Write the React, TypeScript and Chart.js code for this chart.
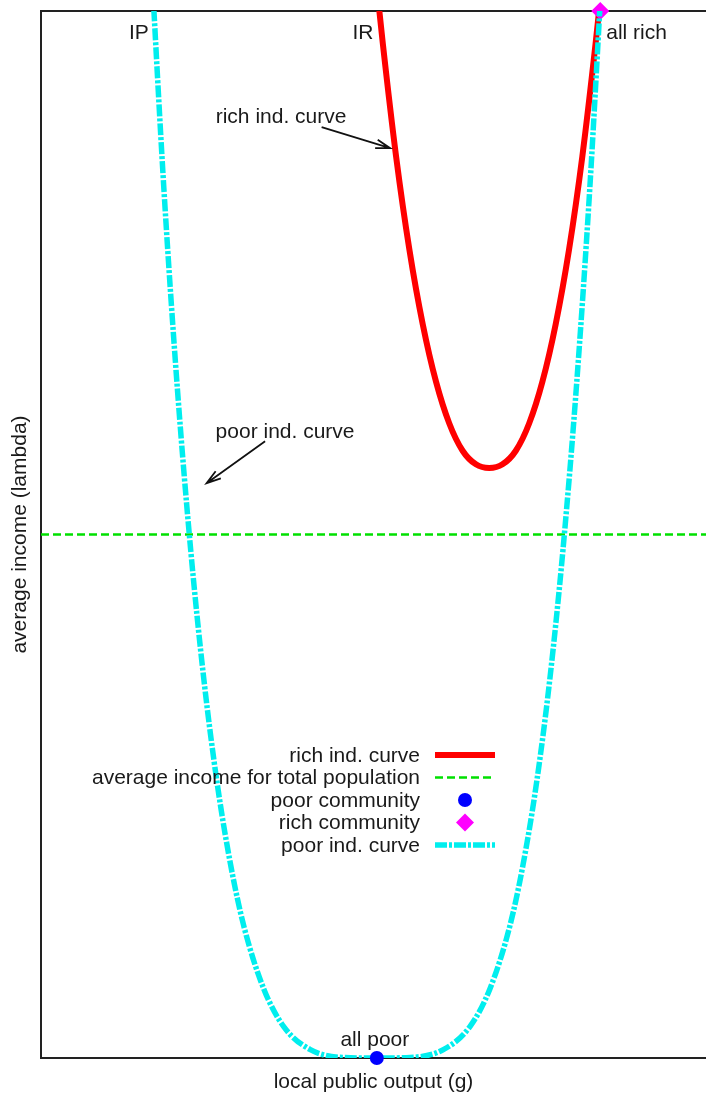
import React, { useEffect, useRef } from "react";
import { Chart, registerables } from "chart.js";

Chart.register(...registerables);

// ---- data (axis units 0..100) ----
const poorCurveX = [16.5, 18.5, 20.5, 22.5, 24.5, 26.5, 28.5, 30.5, 33.5, 36.5, 40.5, 45.5, 50.5, 55.5, 60.5, 64.5, 67.5, 70.5, 72.5, 74.5, 76.5, 78.5, 80.5, 82.5, 84.5];
const poorCurveY = [105.6, 82.8, 64.0, 48.6, 36.1, 26.2, 18.5, 12.6, 6.6, 3.0, 0.8, 0.05, 0, 0.05, 0.8, 3.0, 6.6, 12.6, 18.5, 26.2, 36.1, 48.6, 64.0, 82.8, 105.6];

const richCurveX = [50.4, 51.4, 53.4, 55.4, 57.4, 59.4, 61.4, 63.4, 65.4, 67.4, 69.4, 71.4, 73.4, 75.4, 77.4, 79.4, 81.4, 83.4, 84.4];
const richCurveY = [102.9, 96.9, 86.1, 77.2, 70.1, 64.6, 60.6, 58.0, 56.7, 56.35, 56.7, 58.0, 60.6, 64.6, 70.1, 77.2, 86.1, 96.9, 102.9];

const averageIncomeX = [0, 100];
const averageIncomeY = [50, 50];

const poorCommunity = [{ x: 50.5, y: 0 }];
const richCommunity = [{ x: 84.1, y: 100 }];

const seriesLabels = [
  "rich ind. curve",
  "average income for total population",
  "poor community",
  "rich community",
  "poor ind. curve",
];

const xTitle = "local public output (g)";
const yTitle = "average income (lambda)";

// annotations: [text, x, y, align]
const pointLabels: [string, number, number, CanvasTextAlign][] = [
  ["IP", 16.2, 97.3, "right"],
  ["IR", 50.0, 97.3, "right"],
  ["all rich", 85.0, 97.3, "left"],
  ["all poor", 50.2, 1.15, "center"],
];

// arrow annotations: [text, textX, textY, fromX, fromY, toX, toY]
const arrowNotes: [string, number, number, number, number, number, number][] = [
  ["rich ind. curve", 36.1, 89.3, 42.2, 88.9, 52.5, 86.9],
  ["poor ind. curve", 36.7, 59.2, 33.7, 58.9, 24.9, 54.9],
];

const FONT = '21px "Liberation Sans", Arial, sans-serif';
const TEXT = "#1a1a1a";

const RED = "#ff0000";
const GREEN = "#00e000";
const BLUE = "#0000ff";
const MAGENTA = "#ff00ff";
const CYAN = "#00eeee";

const zip = (xs: number[], ys: number[]) => xs.map((x, i) => ({ x, y: ys[i] }));

const decorPlugin = {
  id: "decor",
  beforeDatasetsDraw(chart: any) {
    const { ctx, chartArea } = chart;
    const { left, top, right, bottom } = chartArea;
    ctx.save();
    ctx.strokeStyle = "#222";
    ctx.lineWidth = 2;
    ctx.beginPath();
    ctx.moveTo(right + 2, top);
    ctx.lineTo(left, top);
    ctx.lineTo(left, bottom);
    ctx.lineTo(right + 2, bottom);
    ctx.stroke();

    // axis titles
    ctx.fillStyle = TEXT;
    ctx.font = FONT;
    ctx.textAlign = "center";
    ctx.textBaseline = "middle";
    ctx.fillText(xTitle, (left + right) / 2, bottom + 24);
    ctx.save();
    ctx.translate(left - 21, (top + bottom) / 2);
    ctx.rotate(-Math.PI / 2);
    ctx.fillText(yTitle, 0, 0);
    ctx.restore();
    ctx.restore();
  },
  afterDatasetsDraw(chart: any) {
    const { ctx } = chart;
    const xs = chart.scales.x;
    const ys = chart.scales.y;
    ctx.save();
    ctx.fillStyle = TEXT;
    ctx.font = FONT;
    ctx.textBaseline = "alphabetic";
    for (const [t, x, y, a] of pointLabels) {
      ctx.textAlign = a;
      ctx.fillText(t, xs.getPixelForValue(x), ys.getPixelForValue(y));
    }
    ctx.strokeStyle = "#111";
    ctx.lineWidth = 1.8;
    for (const [t, tx, ty, fx, fy, tox, toy] of arrowNotes) {
      ctx.textAlign = "center";
      ctx.fillText(t, xs.getPixelForValue(tx), ys.getPixelForValue(ty));
      const x1 = xs.getPixelForValue(fx);
      const y1 = ys.getPixelForValue(fy);
      const x2 = xs.getPixelForValue(tox);
      const y2 = ys.getPixelForValue(toy);
      ctx.beginPath();
      ctx.moveTo(x1, y1);
      ctx.lineTo(x2, y2);
      const ang = Math.atan2(y2 - y1, x2 - x1);
      const L = 15;
      const spread = 0.3;
      ctx.moveTo(x2 - L * Math.cos(ang - spread), y2 - L * Math.sin(ang - spread));
      ctx.lineTo(x2, y2);
      ctx.lineTo(x2 - L * Math.cos(ang + spread), y2 - L * Math.sin(ang + spread));
      ctx.stroke();
    }

    // legend
    const ds = chart.data.datasets;
    const textRight = 420;
    const symL = 435;
    const symR = 495;
    const rowY0 = 755;
    const rowH = 22.5;
    ctx.textAlign = "right";
    ctx.textBaseline = "middle";
    ds.forEach((d: any, i: number) => {
      const y = rowY0 + i * rowH;
      ctx.fillStyle = TEXT;
      ctx.fillText(d.label, textRight, y + 1);
      ctx.save();
      if (d.showLine === false) {
        ctx.fillStyle = d.backgroundColor;
        ctx.beginPath();
        const cx = (symL + symR) / 2;
        if (d.pointStyle === "rectRot") {
          const r = 9;
          ctx.moveTo(cx, y - r);
          ctx.lineTo(cx + r, y);
          ctx.lineTo(cx, y + r);
          ctx.lineTo(cx - r, y);
          ctx.closePath();
        } else {
          ctx.arc(cx, y, 7, 0, Math.PI * 2);
        }
        ctx.fill();
      } else {
        ctx.strokeStyle = d.borderColor;
        ctx.lineWidth = d.borderWidth;
        ctx.setLineDash(d.borderDash || []);
        ctx.beginPath();
        ctx.moveTo(symL, y);
        ctx.lineTo(symR, y);
        ctx.stroke();
      }
      ctx.restore();
    });
    ctx.restore();
  },
};

export default function App() {
  const ref = useRef<HTMLCanvasElement | null>(null);
  useEffect(() => {
    if (!ref.current) return;
    const chart = new Chart(ref.current, {
      type: "line",
      data: {
        datasets: [
          {
            label: seriesLabels[0],
            data: zip(richCurveX, richCurveY),
            borderColor: RED,
            backgroundColor: RED,
            borderWidth: 6,
            pointRadius: 0,
            cubicInterpolationMode: "monotone",
            order: 3,
          },
          {
            label: seriesLabels[1],
            data: zip(averageIncomeX, averageIncomeY),
            borderColor: GREEN,
            backgroundColor: GREEN,
            borderWidth: 2.5,
            borderDash: [8, 4],
            pointRadius: 0,
            order: 4,
          },
          {
            label: seriesLabels[2],
            data: poorCommunity,
            showLine: false,
            borderColor: BLUE,
            backgroundColor: BLUE,
            pointStyle: "circle",
            pointRadius: 7,
            pointBorderWidth: 0,
            clip: false,
            order: 0,
          },
          {
            label: seriesLabels[3],
            data: richCommunity,
            showLine: false,
            borderColor: MAGENTA,
            backgroundColor: MAGENTA,
            pointStyle: "rectRot",
            pointRadius: 9,
            pointBorderWidth: 0,
            clip: false,
            order: 2,
          },
          {
            label: seriesLabels[4],
            data: zip(poorCurveX, poorCurveY),
            borderColor: CYAN,
            backgroundColor: CYAN,
            borderWidth: 5.5,
            borderDash: [12, 2, 3, 2],
            pointRadius: 0,
            cubicInterpolationMode: "monotone",
            order: 1,
          },
        ] as any,
      },
      options: {
        animation: false,
        responsive: false,
        maintainAspectRatio: false,
        layout: { autoPadding: false, padding: { left: 41, top: 11, right: 0, bottom: 42 } },
        plugins: { legend: { display: false }, tooltip: { enabled: false } },
        scales: {
          x: { type: "linear", min: 0, max: 100, display: false },
          y: { type: "linear", min: 0, max: 100, display: false },
        },
      },
      plugins: [decorPlugin],
    });
    return () => chart.destroy();
  }, []);
  return (
    <div style={{ position: "fixed", left: 0, top: 0, width: 706, height: 1100, background: "#fff" }}>
      <canvas ref={ref} width={706} height={1100} style={{ width: 706, height: 1100 }} />
    </div>
  );
}
